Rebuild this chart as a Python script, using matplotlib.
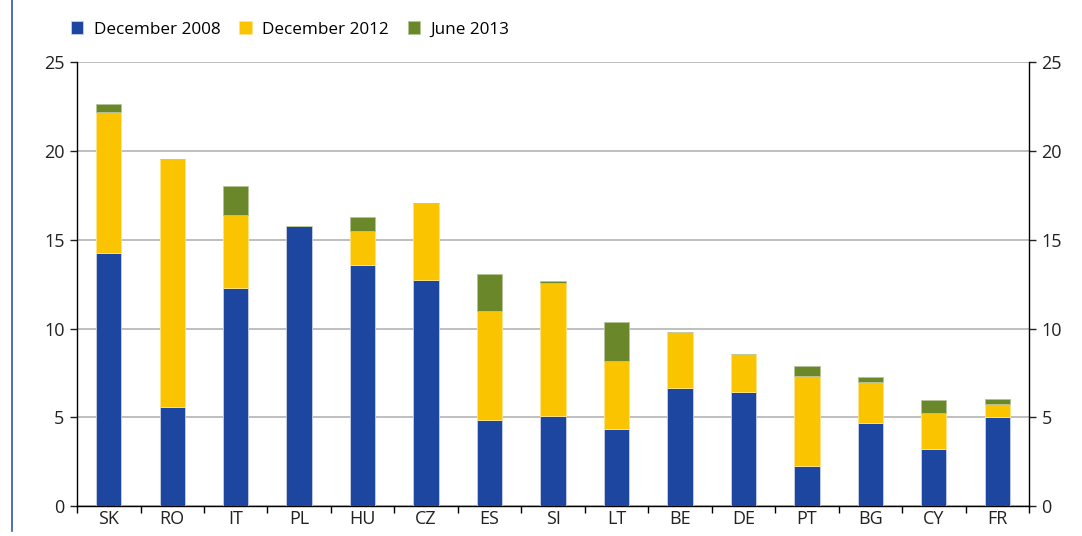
import matplotlib.pyplot as plt
import numpy as np

plt.rcParams['font.family'] = ['Open Sans', 'DejaVu Sans']

# Dados
paises = ['SK', 'RO', 'IT', 'PL', 'HU', 'CZ', 'ES', 'SI', 'LT', 'BE', 'DE', 'PT', 'BG', 'CY', 'FR']
dez_2008 = [14.25, 5.58, 12.3, 15.77, 13.6, 12.75, 4.86, 5.09, 4.36, 6.67, 6.4, 2.27, 4.67, 3.21, 5.03]
dez_2012 = [22.2, 19.53, 16.38, 15.77, 15.49, 17.09, 11.0, 12.54, 8.19, 9.78, 8.58, 7.3, 6.97, 5.24, 5.76]
jun_2013 = [22.65, 19.53, 18.03, 15.77, 16.26, 17.09, 13.05, 12.68, 10.37, 9.78, 8.58, 7.87, 7.26, 5.95, 6.01]

azul = '#1D46A0'
amarelo = '#FBC400'
verde = '#6A8729'

b2008 = np.array(dez_2008)
b2012 = np.array(dez_2012)
b2013 = np.array(jun_2013)
x = np.arange(len(paises))

fig = plt.figure(figsize=(10.82, 5.36), dpi=100)
ax = fig.add_axes([0.0712, 0.056, 0.8798, 0.8278])

largura = 0.4
ax.bar(x, b2008, largura, color=azul, edgecolor='#c8d0e8', linewidth=0.6, label='December 2008', zorder=3)
ax.bar(x, b2012 - b2008, largura, bottom=b2008, color=amarelo, edgecolor='#fde48a', linewidth=0.6,
       label='December 2012', zorder=3)
ax.bar(x, b2013 - b2012, largura, bottom=b2012, color=verde, edgecolor='#b5c49a', linewidth=0.6,
       label='June 2013', zorder=3)

ax.set_xlim(-0.5, len(paises) - 0.5)
ax.set_ylim(0, 25)
ax.set_yticks([0, 5, 10, 15, 20, 25])
ax.set_xticks(x)
ax.set_xticklabels(paises)
ax.set_xticks(np.arange(-0.5, len(paises), 1), minor=True)
ax.tick_params(axis='x', which='major', length=0, labelsize=13, pad=3, colors='#222222')
ax.tick_params(axis='x', which='minor', length=5, width=1, color='black', direction='out')
ax.tick_params(axis='y', length=5, width=1, labelsize=13, colors='#222222', direction='out', pad=4)
ax.grid(axis='y', color='#b4b4b4', linewidth=1.2, zorder=0)

for lado in ['top', 'right']:
    ax.spines[lado].set_visible(False)
ax.spines['left'].set_linewidth(1)
ax.spines['bottom'].set_linewidth(1)

ax2 = ax.twinx()
ax2.set_ylim(0, 25)
ax2.set_yticks([0, 5, 10, 15, 20, 25])
ax2.tick_params(axis='y', length=5, width=1, labelsize=13, colors='#222222', direction='out', pad=4)
for lado in ['top', 'left', 'bottom']:
    ax2.spines[lado].set_visible(False)
ax2.spines['right'].set_linewidth(1)

ax.legend(loc='lower left', bbox_to_anchor=(-0.014, 1.04), ncol=3, frameon=False, fontsize=12.3,
          handlelength=0.75, handleheight=0.75, handletextpad=0.6, columnspacing=1.1, borderaxespad=0)

# linha azul vertical na margem esquerda
fig.add_artist(plt.Line2D([0.0115, 0.0115], [0.01, 1.0], color='#3355aa', linewidth=1.2))

fig.savefig('out.png', dpi=100)
